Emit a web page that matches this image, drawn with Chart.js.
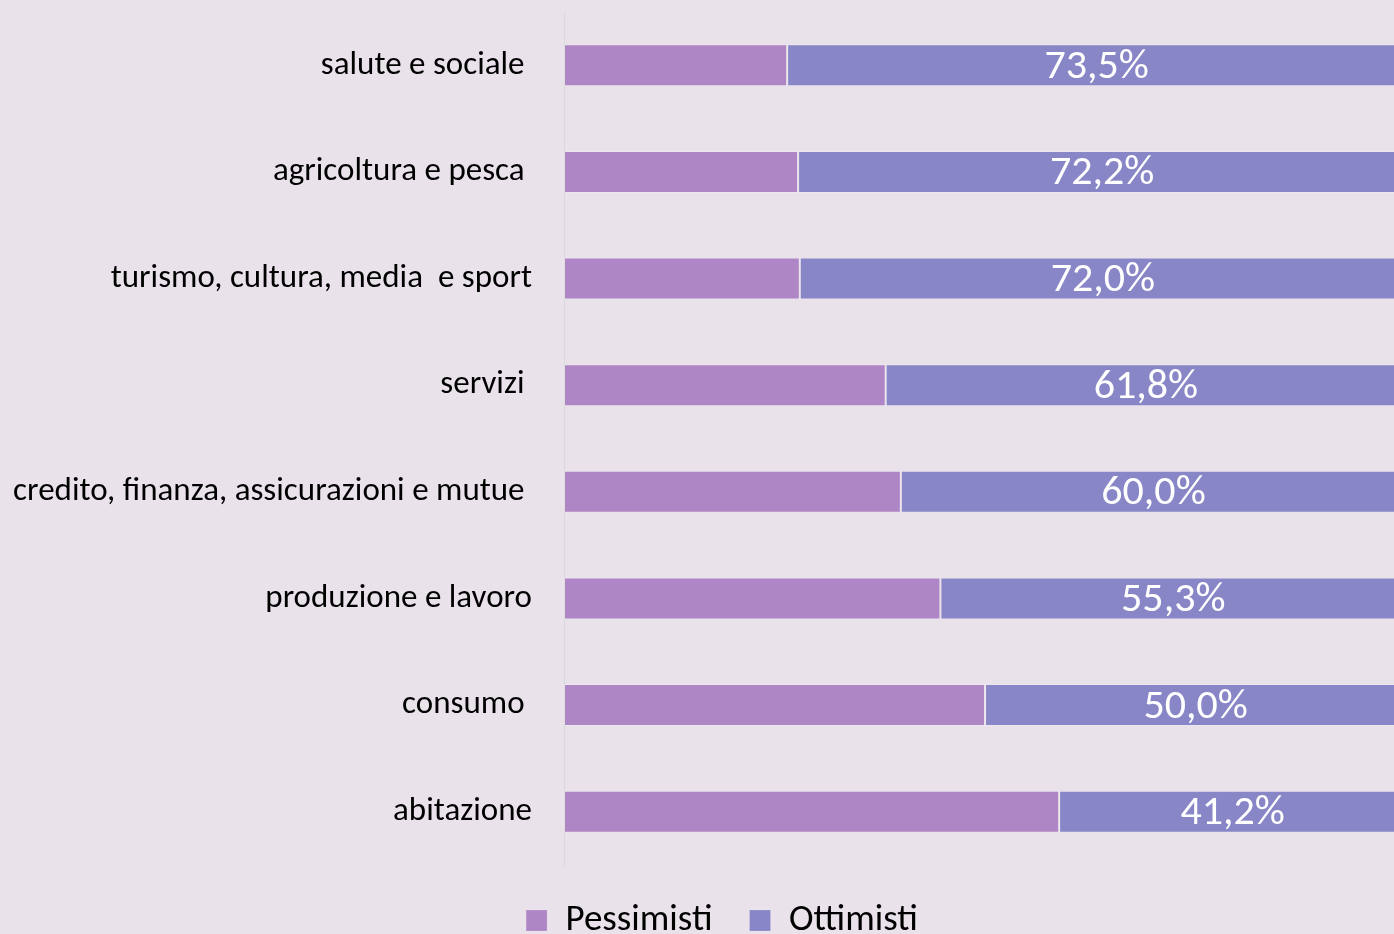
<!DOCTYPE html>
<html>
<head>
<meta charset="utf-8">
<script src="https://cdn.jsdelivr.net/npm/chart.js@4.4.1/dist/chart.umd.min.js"></script>
<style>
  html, body { margin: 0; padding: 0; overflow: hidden; background: #e9e2eb; }
  #wrap { width: 1444px; height: 949px; }
</style>
</head>
<body>
<div id="wrap"><canvas id="chart"></canvas></div>
<script>
// Settori (dall'alto in basso)
const categories = [
    'salute e sociale ',
    'agricoltura e pesca ',
    'turismo, cultura, media  e sport',
    'servizi ',
    'credito, finanza, assicurazioni e mutue ',
    'produzione e lavoro',
    'consumo ',
    'abitazione'
];
const pessimisti = [26.5, 27.8, 28.0, 38.2, 40.0, 44.7, 50.0, 58.8];
const ottimisti = [73.5, 72.2, 72.0, 61.8, 60.0, 55.3, 50.0, 41.2];

const FONT = "Carlito, Lato, 'Open Sans', sans-serif";

// White percentage labels in the middle of the Ottimisti segment
const valueLabels = {
    id: 'valueLabels',
    afterDatasetsDraw(chart) {
        const ctx = chart.ctx;
        const x = chart.scales.x;
        const meta = chart.getDatasetMeta(1);
        ctx.save();
        ctx.fillStyle = '#ffffff';
        ctx.font = '42px ' + FONT;
        ctx.textAlign = 'center';
        ctx.textBaseline = 'middle';
        meta.data.forEach((bar, i) => {
            const mid = x.getPixelForValue(pessimisti[i] + ottimisti[i] / 2);
            ctx.fillText(ottimisti[i].toFixed(1).replace('.', ',') + '%', mid, bar.y + 2);
        });
        ctx.restore();
    }
};

new Chart(document.getElementById('chart'), {
    type: 'bar',
    data: {
        labels: categories,
        datasets: [{
            label: 'Pessimisti',
            data: pessimisti,
            backgroundColor: '#ae85c5',
            borderColor: 'rgba(255,255,255,0.15)',
            borderWidth: 1,
            borderSkipped: false
        }, {
            label: 'Ottimisti',
            data: ottimisti,
            backgroundColor: '#8886c7',
            borderColor: 'rgba(255,255,255,0.15)',
            borderWidth: 1,
            borderSkipped: false
        }]
    },
    options: {
        indexAxis: 'y',
        responsive: true,
        maintainAspectRatio: false,
        animation: false,
        categoryPercentage: 1,
        barPercentage: 0.394,
        layout: { padding: { top: 12, right: 0, left: 0, bottom: 0 } },
        plugins: {
            legend: {
                position: 'bottom',
                labels: {
                    color: '#000000',
                    boxWidth: 21,
                    boxHeight: 21,
                    padding: 37,
                    font: { family: FONT, size: 37 }
                }
            },
            tooltip: { enabled: false }
        },
        scales: {
            x: {
                stacked: true,
                display: false,
                min: 0,
                max: 104.5   // the plot runs on past the window's right edge
            },
            y: {
                stacked: true,
                grid: { display: false, drawTicks: false },
                border: { color: '#d9d9d9', width: 1 },
                ticks: {
                    color: '#000000',
                    padding: 32,
                    font: { family: FONT, size: 33 }
                },
                afterFit(axis) {
                    axis.width = 564;
                    axis.paddingTop = 0;
                    axis.paddingBottom = 0;
                }
            }
        }
    },
    plugins: [valueLabels]
});
</script>
</body>
</html>
